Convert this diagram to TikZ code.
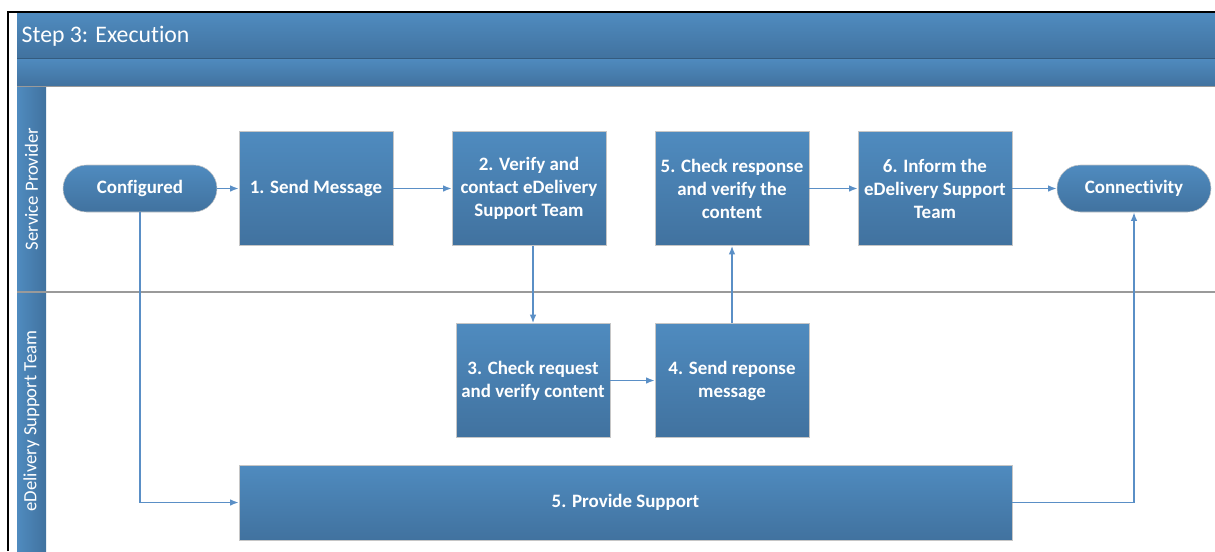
\documentclass[tikz,border=0pt]{standalone}
\usepackage{fontspec}
\setmainfont{Carlito}[RawFeature={-liga;-clig;-calt;-dlig}]
\usetikzlibrary{positioning,arrows.meta}
\definecolor{boxtop}{HTML}{4F8BBF}
\definecolor{boxbot}{HTML}{41729F}
\definecolor{flowline}{HTML}{5A8FC6}
\definecolor{lanegray}{HTML}{9A9A9A}

\begin{document}
\begin{tikzpicture}[x=0.75pt,y=-0.75pt,
    task/.style={draw=gray!45, top color=boxtop, bottom color=boxbot, text=white,
        font=\bfseries\fontsize{14.2}{17.3}\selectfont, align=center, inner sep=2pt,
        minimum width=115.5pt, minimum height=85.5pt},
    terminal/.style={task, minimum height=35.25pt, rounded corners=17.6pt},
    flow/.style={draw=flowline, line width=1.2pt, -{Latex[length=6.5pt,width=5pt]}},
    band/.style={top color=boxtop, bottom color=boxbot, draw=none},
    lanetext/.style={rotate=90, text=white, font=\fontsize{14}{17}\selectfont}]
    \useasboundingbox (0,0) rectangle (1215,551);

    % pool and lanes
    \shade[band] (17,13) rectangle (1215,58);
    \shade[band] (17,58) rectangle (1215,86);
    \shade[left color=boxtop, right color=boxbot] (17,86) rectangle (46,551);
    \draw[boxbot!80!black, line width=0.5pt] (17,58) -- (1215,58);
    \draw[lanegray, line width=0.6pt] (17,86) -- (1215,86);
    \draw[lanegray, line width=0.8pt] (17,292) -- (1215,292);
    \draw[line width=1.5pt] (8,551) -- (8,12) -- (1215,12);
    \node[anchor=west, text=white, font=\fontsize{17.8}{21}\selectfont] (title) at (17,36) {Step 3: Execution};
    \node[lanetext] (lanesp) at (31.5,189) {Service Provider};
    \node[lanetext] (laneet) at (31.5,421) {eDelivery Support Team};

    % service provider lane
    \node[terminal] (conf) at (140,188.5) {Configured};
    \node[task] (send) at (316,188.5) {1. Send Message};
    \node[task] (verify) at (529,188.5) {2. Verify and\\contact eDelivery\\Support Team};
    \node[task] (checkresp) at (732,188.5) {5. Check response\\and verify the\\content};
    \node[task] (inform) at (935,188.5) {6. Inform the\\eDelivery Support\\Team};
    \node[terminal] (conn) at (1134,188.5) {Connectivity};

    % eDelivery support team lane
    \node[task] (checkreq) at (533,380.5) {3. Check request\\and verify content};
    \node[task] (sendresp) at (732,380.5) {4. Send reponse\\message};
    \node[task, minimum width=579.75pt, minimum height=56.25pt] (support) at (625.5,502.5) {5. Provide Support};

    \draw[flow] (conf) -- (send);
    \draw[flow] (send) -- (verify);
    \draw[flow] (checkreq.north |- verify.south) -- (checkreq.north);
    \draw[flow] (checkreq) -- (sendresp);
    \draw[flow] (sendresp) -- (checkresp);
    \draw[flow] (checkresp) -- (inform);
    \draw[flow] (inform) -- (conn);
    \draw[flow] (conf.south) |- (support.west);
    \draw[flow] (support.east) -| (conn.south);
\end{tikzpicture}
\end{document}
